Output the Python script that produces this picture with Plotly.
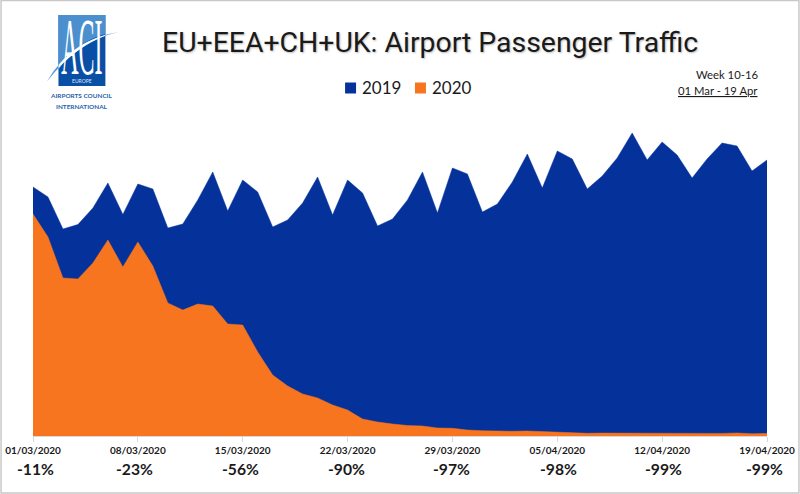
import base64
import plotly.graph_objects as go

# Dates as drawn on the axis, one point per day
start_date = "2020-03-01"
end_date = "2020-04-19"
days = [
    "2020-03-01", "2020-03-02", "2020-03-03", "2020-03-04", "2020-03-05", "2020-03-06", "2020-03-07",
    "2020-03-08", "2020-03-09", "2020-03-10", "2020-03-11", "2020-03-12", "2020-03-13", "2020-03-14",
    "2020-03-15", "2020-03-16", "2020-03-17", "2020-03-18", "2020-03-19", "2020-03-20", "2020-03-21",
    "2020-03-22", "2020-03-23", "2020-03-24", "2020-03-25", "2020-03-26", "2020-03-27", "2020-03-28",
    "2020-03-29", "2020-03-30", "2020-03-31", "2020-04-01", "2020-04-02", "2020-04-03", "2020-04-04",
    "2020-04-05", "2020-04-06", "2020-04-07", "2020-04-08", "2020-04-09", "2020-04-10", "2020-04-11",
    "2020-04-12", "2020-04-13", "2020-04-14", "2020-04-15", "2020-04-16", "2020-04-17", "2020-04-18",
    "2020-04-19",
]

# Traffic (no value axis in the original, so arbitrary units)
traffic_2019 = [
    249, 239, 207, 211.5, 228, 253, 221.5, 252, 247, 208,
    212, 236, 264, 225, 256, 244, 209, 216, 233, 259,
    221, 256, 243, 210, 217, 236, 264, 223, 268, 262,
    224, 232, 254, 282, 248, 285, 277, 247, 260, 278,
    303, 276, 294, 281, 258, 277, 293, 290, 265, 276,
]
traffic_2020 = [
    222, 199, 158, 157, 173, 196, 169, 194, 170, 133,
    126, 132, 130, 112, 111, 84, 61, 50, 42, 38,
    31, 26, 17, 14, 12, 10.5, 10, 8, 7.7, 6,
    5.3, 4.7, 4.7, 5, 4.3, 4.3, 3.3, 2.7, 2.9, 2.8,
    2.6, 2.3, 2.7, 2.7, 2.6, 2.6, 2.6, 3, 2.3, 2.6,
]

tick_dates = ["2020-03-01", "2020-03-08", "2020-03-15", "2020-03-22",
              "2020-03-29", "2020-04-05", "2020-04-12", "2020-04-19"]
tick_labels = ["01/03/2020", "08/03/2020", "15/03/2020", "22/03/2020",
               "29/03/2020", "05/04/2020", "12/04/2020", "19/04/2020"]
week_changes = ["-11%", "-23%", "-56%", "-90%", "-97%", "-98%", "-99%", "-99%"]
change_shifts = [2.5, -3, -2.5, -1.5, -1, 1.5, 1.5, -2.5]

BLUE = "#04329A"
ORANGE = "#F7751E"

# Plot box in page pixels
LEFT, RIGHT, TOP, BOTTOM = 32.5, 767.5, 100, 436


def fx(px):
    return (px - LEFT) / (RIGHT - LEFT)


def fy(py):
    return (BOTTOM - py) / (BOTTOM - TOP)


def page_text(text, x, y, size, color="#1a1a1a", family="Lato", anchor="center", **font_extra):
    return dict(text=text, x=fx(x), y=fy(y), xref="paper", yref="paper", showarrow=False,
                xanchor=anchor, yanchor="middle",
                font=dict(family=family, size=size, color=color, **font_extra))


# ACI logo artwork, page pixel coordinates
logo_svg = """<svg xmlns="http://www.w3.org/2000/svg" width="130" height="110" viewBox="0 0 130 110">
<defs><clipPath id="box"><rect x="58" y="15" width="47" height="71"/></clipPath></defs>
<rect x="58" y="15" width="47" height="71" fill="#0A4FA6"/>
<path d="M58 15 H105 V34 Q75 42 58 70 Z" fill="#4B8FCE"/>
<path d="M46.5 81.5 Q70 40 118 32 Q78 41 46.5 81.5 Z" fill="#5A9AD6"/>
<g clip-path="url(#box)"><path d="M46.5 81.5 Q70 40 118 32 Q78 41 46.5 81.5 Z" fill="#ffffff"/></g>
<text transform="translate(81.5,74) scale(0.3,1)" text-anchor="middle" font-family="Liberation Serif"
 font-size="80" fill="#ffffff">ACI</text>
</svg>"""
logo_uri = "data:image/svg+xml;base64," + base64.b64encode(logo_svg.encode()).decode()

fig = go.Figure()

fig.add_trace(go.Scatter(x=days, y=traffic_2019, name="2019", mode="lines", fill="tozeroy",
                         fillcolor=BLUE, line=dict(color=BLUE, width=0.5), showlegend=False))
fig.add_trace(go.Scatter(x=days, y=traffic_2020, name="2020", mode="lines", fill="tozeroy",
                         fillcolor=ORANGE, line=dict(color=ORANGE, width=0.5), showlegend=False))

annotations = [
    page_text("EU+EEA+CH+UK: Airport Passenger Traffic", 430, 43, 28.4, family="Roboto",
              shadow="1px 1px 2px #bbbbbb"),
    page_text("2019", 360, 88, 17, anchor="left"),
    page_text("2020", 430, 88, 17, anchor="left"),
    page_text("Week 10-16", 760, 74, 11.3, anchor="right"),
    page_text("<span style='text-decoration:underline'>01 Mar - 19 Apr</span>", 760, 90, 11.3, anchor="right"),
    page_text("EUROPE", 81.5, 81, 5, color="#dbe7f5"),
    page_text("AIRPORTS COUNCIL", 81, 95, 6.4, color="#1F5FA8", weight="bold"),
    page_text("INTERNATIONAL", 82, 106, 6.4, color="#1F5FA8", weight="bold"),
]
for day, change, shift in zip(tick_dates, week_changes, change_shifts):
    annotations.append(dict(text=f"<b>{change}</b>", x=day, y=fy(469), xref="x", yref="paper", xshift=shift,
                            showarrow=False, xanchor="center", yanchor="middle",
                            font=dict(family="Lato", size=15.7, color="#1a1a1a")))

shapes = [
    # legend squares
    dict(type="rect", xref="paper", yref="paper", x0=fx(345), x1=fx(356), y0=fy(82.5), y1=fy(93.5),
         fillcolor=BLUE, line=dict(width=0)),
    dict(type="rect", xref="paper", yref="paper", x0=fx(415), x1=fx(426), y0=fy(82.5), y1=fy(93.5),
         fillcolor=ORANGE, line=dict(width=0)),
    # grey frame of the picture
    dict(type="rect", xref="paper", yref="paper", x0=fx(0.5), x1=fx(799.5), y0=fy(0.5), y1=fy(493),
         line=dict(color="#C8C8C8", width=1.5)),
]

fig.update_layout(
    width=800,
    height=494,
    margin=dict(l=LEFT, r=800 - RIGHT, t=TOP, b=494 - BOTTOM, pad=0),
    paper_bgcolor="white",
    plot_bgcolor="white",
    xaxis=dict(type="date", range=[start_date, end_date], tickmode="array", tickvals=tick_dates,
               ticktext=tick_labels, ticks="outside", ticklen=5, tickcolor="#D9D9D9", tickwidth=1,
               showline=True, linecolor="#D9D9D9", showgrid=False, zeroline=False, tickangle=0,
               tickfont=dict(family="Lato", size=10, color="#1a1a1a", weight="bold"), automargin=False),
    yaxis=dict(range=[0, 336], visible=False, showgrid=False, zeroline=False),
    annotations=annotations,
    shapes=shapes,
    images=[dict(source=logo_uri, xref="paper", yref="paper", x=fx(0), y=fy(0), sizex=fx(130) - fx(0),
                 sizey=fy(0) - fy(110), xanchor="left", yanchor="top", sizing="stretch", layer="above")],
)

fig.write_html("out.html", config={"displayModeBar": False}, post_script="document.body.style.margin='0';")
